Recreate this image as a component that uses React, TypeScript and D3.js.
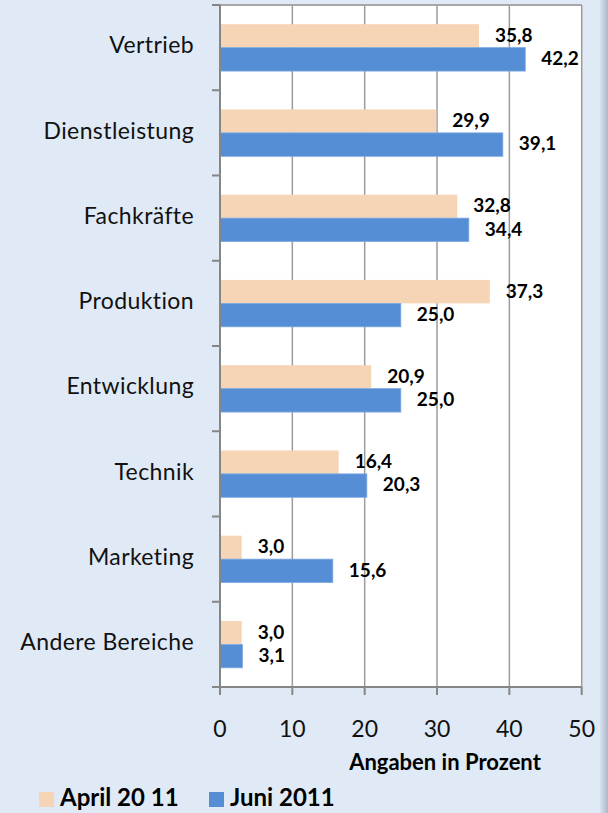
import React from "react";
import * as d3 from "d3";

// Werte aus dem Diagramm (Angaben in Prozent)
const categories = [
  "Vertrieb",
  "Dienstleistung",
  "Fachkräfte",
  "Produktion",
  "Entwicklung",
  "Technik",
  "Marketing",
  "Andere Bereiche",
];
const seriesNames = ["April 20 11", "Juni 2011"];
const april2011 = [35.8, 29.9, 32.8, 37.3, 20.9, 16.4, 3.0, 3.0];
const juni2011 = [42.2, 39.1, 34.4, 25.0, 25.0, 20.3, 15.6, 3.1];
const xTicks = [0, 10, 20, 30, 40, 50];
const axisTitle = "Angaben in Prozent";

const W = 608;
const H = 813;
const FONT = "Lato, 'Open Sans', sans-serif";
const colors = ["#f6d5b6", "#558ed5"];

export default function App() {
  const x = d3.scaleLinear().domain([0, 50]).range([220, 581.7]);
  const y = d3
    .scaleBand()
    .domain(categories)
    .range([5, 687])
    .paddingInner(0.45)
    .paddingOuter(0.225);
  const ySub = d3
    .scaleBand()
    .domain(seriesNames)
    .range([0, y.bandwidth()]);

  const series = [april2011, juni2011];
  const fmt = (v) => d3.format(".1f")(v).replace(".", ",");
  const step = y.step();
  const boundaries = d3.range(categories.length + 1).map((i) => 5 + i * step);

  return (
    <svg
      width={W}
      height={H}
      style={{ position: "absolute", left: 0, top: 0 }}
      fontFamily={FONT}
    >
      <defs>
        <linearGradient id="edge" x1="0" x2="1" y1="0" y2="0">
          <stop offset="0" stopColor="#d9e3ef" />
          <stop offset="1" stopColor="#a9b7c9" />
        </linearGradient>
      </defs>
      <rect x={0} y={0} width={W} height={H} fill="#e0eaf6" />
      <rect x={600} y={0} width={8} height={H} fill="url(#edge)" />

      {/* Plotfläche */}
      <rect x={x(0)} y={5} width={x(50) - x(0)} height={687 - 5} fill="#ffffff" />

      {/* Gitterlinien */}
      {xTicks.slice(1).map((t) => (
        <line
          key={"g" + t}
          x1={x(t)}
          x2={x(t)}
          y1={5}
          y2={687}
          stroke="#9c9c9c"
          strokeWidth={1.5}
        />
      ))}
      <line x1={x(0)} x2={x(50)} y1={5} y2={5} stroke="#a6a6a6" strokeWidth={2} />

      {/* Balken */}
      {series.map((vals, si) =>
        vals.map((v, i) => (
          <rect
            key={si + "-" + i}
            x={x(0)}
            y={y(categories[i]) + ySub(seriesNames[si])}
            width={x(v) - x(0)}
            height={ySub.bandwidth()}
            fill={colors[si]}
            stroke={si === 1 ? "#7eaae2" : "none"}
            strokeWidth={0.8}
          />
        ))
      )}

      {/* Datenbeschriftungen */}
      {series.map((vals, si) =>
        vals.map((v, i) => (
          <text
            key={"l" + si + "-" + i}
            x={x(v) + 16}
            y={y(categories[i]) + ySub(seriesNames[si]) + ySub.bandwidth() / 2 + 1}
            dominantBaseline="middle"
            fontSize={19}
            fontWeight="bold"
            fill="#000"
          >
            {fmt(v)}
          </text>
        ))
      )}

      {/* Achsen */}
      <line x1={x(0)} x2={x(0)} y1={5} y2={687} stroke="#868686" strokeWidth={2} />
      <line x1={x(0)} x2={x(50)} y1={687} y2={687} stroke="#868686" strokeWidth={2} />
      {boundaries.map((b, i) => (
        <line key={"yt" + i} x1={212} x2={x(0)} y1={b} y2={b} stroke="#868686" strokeWidth={2} />
      ))}
      {xTicks.map((t) => (
        <line key={"xt" + t} x1={x(t)} x2={x(t)} y1={687} y2={695} stroke="#868686" strokeWidth={2} />
      ))}

      {/* Kategorien */}
      {categories.map((c) => (
        <text
          key={c}
          x={194}
          y={y(c) + y.bandwidth() / 2}
          textAnchor="end"
          dominantBaseline="middle"
          fontSize={23}
          letterSpacing={0.4}
          fill="#111"
        >
          {c}
        </text>
      ))}

      {/* X-Tickbeschriftungen */}
      {xTicks.map((t) => (
        <text
          key={"xl" + t}
          x={x(t)}
          y={731}
          textAnchor="middle"
          dominantBaseline="middle"
          fontSize={23}
          fill="#111"
        >
          {t}
        </text>
      ))}
      <text
        x={445}
        y={764}
        textAnchor="middle"
        dominantBaseline="middle"
        fontSize={22}
        fontWeight="bold"
        fill="#000"
      >
        {axisTitle}
      </text>

      {/* Legende */}
      {seriesNames.map((s, i) => {
        const lx = [39, 209][i];
        return (
          <g key={s}>
            <rect x={lx} y={792} width={15} height={15} fill={colors[i]} />
            <text
              x={lx + 21}
              y={800}
              dominantBaseline="middle"
              fontSize={24}
              fontWeight="bold"
              fill="#000"
            >
              {s}
            </text>
          </g>
        );
      })}
    </svg>
  );
}
